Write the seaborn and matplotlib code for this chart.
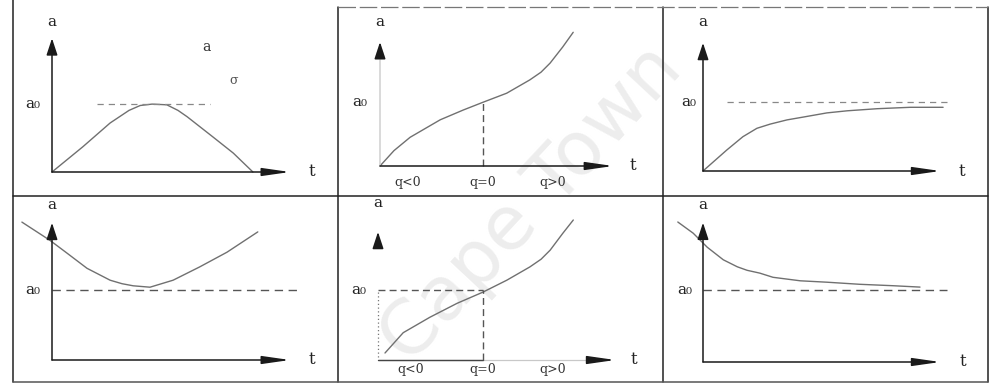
import matplotlib
matplotlib.use("Agg")
import matplotlib.pyplot as plt
from matplotlib.lines import Line2D
import seaborn as sns

sns.set_theme(style="white")
plt.rcParams["font.family"] = ["DejaVu Serif", "DejaVu Sans"]

W, H = 990, 383
S = 70.0  # pixels per data unit

# ---- curve data (t, a) for the six panels; a0 is the reference level ----
t1 = [0.00, 0.44, 0.83, 1.10, 1.26, 1.43, 1.64, 1.80, 1.93, 2.30, 2.59, 2.87]
a1 = [0.00, 0.36, 0.70, 0.88, 0.95, 0.97, 0.96, 0.88, 0.79, 0.50, 0.27, 0.00]
a0_1 = 0.97

t2 = [0.00, 0.20, 0.43, 0.86, 1.19, 1.47, 1.81, 2.14, 2.30, 2.43, 2.61, 2.76]
a2 = [0.00, 0.22, 0.41, 0.66, 0.80, 0.91, 1.04, 1.23, 1.34, 1.47, 1.70, 1.91]
a0_2 = 0.91
tq_2 = 1.47

t3 = [0.00, 0.34, 0.57, 0.77, 0.96, 1.20, 1.43, 1.77, 2.06, 2.49, 2.96, 3.43]
a3 = [0.00, 0.30, 0.49, 0.61, 0.67, 0.73, 0.77, 0.83, 0.86, 0.89, 0.91, 0.91]
a0_3 = 0.99

t4 = [-0.43, -0.03, 0.21, 0.50, 0.83, 1.00, 1.16, 1.40, 1.73, 2.11, 2.50, 2.94]
a4 = [1.97, 1.71, 1.53, 1.31, 1.14, 1.09, 1.06, 1.04, 1.14, 1.33, 1.54, 1.83]
a0_4 = 1.00

t5 = [0.10, 0.36, 0.74, 1.13, 1.50, 1.84, 2.17, 2.33, 2.46, 2.64, 2.79]
a5 = [0.10, 0.39, 0.61, 0.81, 0.97, 1.14, 1.33, 1.44, 1.57, 1.81, 2.00]
a0_5 = 1.00
tq_5 = 1.50

t6 = [-0.36, -0.14, 0.06, 0.29, 0.49, 0.63, 0.81, 1.00, 1.39, 1.77, 2.24, 2.71, 3.10]
a6 = [2.00, 1.84, 1.64, 1.46, 1.36, 1.31, 1.27, 1.21, 1.16, 1.14, 1.11, 1.09, 1.07]
a0_6 = 1.03

q_labels = ["q<0", "q=0", "q>0"]

CURVE = "#707070"
AXIS = "#1a1a1a"
DASH = "#555555"
Y_HEAD = "-|>,head_length=0.85,head_width=0.28"
X_HEAD = "-|>,head_length=1.4,head_width=0.2"

fig = plt.figure(figsize=(W / 100, H / 100), dpi=100)
fig.patch.set_facecolor("white")


def make_panel(cell, origin):
    x0, y0, x1, y1 = cell
    ox, oy = origin
    ax = fig.add_axes([x0 / W, 1 - y1 / H, (x1 - x0) / W, (y1 - y0) / H])
    ax.set_xlim((x0 - ox) / S, (x1 - ox) / S)
    ax.set_ylim((oy - y1) / S, (oy - y0) / S)
    ax.axis("off")
    ax.patch.set_alpha(0)
    return ax


def arrow(ax, start, tip, style, color=AXIS, lw=1.1):
    ax.annotate("", xy=tip, xytext=start,
                arrowprops=dict(arrowstyle=style, color=color, lw=lw,
                                mutation_scale=12, shrinkA=0, shrinkB=0))


def axes_arrows(ax, ytop, xright, ylabel_y, tlabel_x, ycolor=AXIS):
    arrow(ax, (0, 0), (0, ytop), Y_HEAD, color=ycolor)
    arrow(ax, (0, 0), (xright, 0), X_HEAD)
    ax.text(0, ylabel_y, "a", ha="center", va="center", fontsize=11, color="#222")
    ax.text(tlabel_x, 0, "t", ha="center", va="center", fontsize=12, color="#222")


def curve(ax, t, a):
    sns.lineplot(x=t, y=a, ax=ax, color=CURVE, lw=1.0, sort=False,
                 estimator=None, legend=False)


def a0_label(ax, x, y):
    ax.text(x, y, "a₀", ha="center", va="center", fontsize=11, color="#222")


# Panel 1: rise and fall
ax = make_panel((13, 7, 338, 196), (52, 172))
axes_arrows(ax, 1.91, 3.40, 2.14, 3.71)
curve(ax, t1, a1)
ax.plot([0.64, 2.26], [a0_1, a0_1], ls=(0, (5, 4)), color="#888", lw=0.9)
a0_label(ax, -0.27, a0_1)
ax.text(2.21, 1.79, "a", ha="center", va="center", fontsize=10, color="#333")
ax.text(2.59, 1.31, "σ", ha="center", va="center", fontsize=9, color="#555")

# Panel 2: growth with an inflection at q = 0
ax = make_panel((338, 7, 663, 196), (380, 166))
axes_arrows(ax, 1.77, 3.33, 2.06, 3.61, ycolor="#cfcfcf")
arrow(ax, (0, 1.62), (0, 1.77), Y_HEAD)
curve(ax, t2, a2)
ax.plot([tq_2, tq_2], [0, a0_2], ls=(0, (5, 3)), color=DASH, lw=1.0)
a0_label(ax, -0.29, a0_2)
for x, lab in zip([0.39, tq_2, 2.47], q_labels):
    ax.text(x, -0.23, lab, ha="center", va="center", fontsize=9, color="#333")

# Panel 3: saturation towards a0
ax = make_panel((663, 7, 988, 196), (703, 171))
axes_arrows(ax, 1.83, 3.39, 2.13, 3.70)
curve(ax, t3, a3)
ax.plot([0.34, 3.49], [a0_3, a0_3], ls=(0, (5, 4)), color="#888", lw=0.9)
a0_label(ax, -0.21, a0_3)

# Panel 4: fall and rise around a0
ax = make_panel((13, 196, 338, 382), (52, 360))
axes_arrows(ax, 1.96, 3.40, 2.21, 3.71)
curve(ax, t4, a4)
ax.plot([0, 3.50], [a0_4, a0_4], ls=(0, (6, 4)), color=DASH, lw=1.0)
a0_label(ax, -0.27, a0_4)

# Panel 5: growth with dashed guides to a0
ax = make_panel((338, 196, 663, 382), (378, 360))
arrow(ax, (0, 1.68), (0, 1.83), Y_HEAD)
ax.plot([0, 3.2], [0, 0], color="#c8c8c8", lw=0.9)
ax.plot([0, tq_5], [0, 0], color="#444", lw=1.0)
arrow(ax, (3.1, 0), (3.39, 0), X_HEAD)
ax.text(0, 2.24, "a", ha="center", va="center", fontsize=11, color="#222")
ax.text(3.66, 0, "t", ha="center", va="center", fontsize=12, color="#222")
curve(ax, t5, a5)
ax.plot([0, tq_5], [a0_5, a0_5], ls=(0, (5, 3)), color=DASH, lw=1.0)
ax.plot([tq_5, tq_5], [0, a0_5], ls=(0, (5, 3)), color=DASH, lw=1.0)
ax.plot([0, 0], [0.05, a0_5], ls=(0, (1, 2)), color="#777", lw=0.9)
a0_label(ax, -0.27, a0_5)
for x, lab in zip([0.46, tq_5, 2.50], q_labels):
    ax.text(x, -0.14, lab, ha="center", va="center", fontsize=9, color="#333")

# Panel 6: decay towards a0
ax = make_panel((663, 196, 988, 382), (703, 362))
axes_arrows(ax, 1.99, 3.39, 2.24, 3.71)
curve(ax, t6, a6)
ax.plot([0, 3.49], [a0_6, a0_6], ls=(0, (6, 4)), color=DASH, lw=1.0)
a0_label(ax, -0.26, a0_6)


# Frame lines between the panels
def frame(x_a, y_a, x_b, y_b, color="#222", lw=1.1, ls="-"):
    fig.add_artist(Line2D([x_a / W, x_b / W], [1 - y_a / H, 1 - y_b / H],
                          transform=fig.transFigure, color=color, lw=lw, ls=ls))


frame(13, 0, 13, 382)
frame(338, 7, 338, 382)
frame(663, 7, 663, 382)
frame(988, 7, 988, 382)
frame(13, 196, 988, 196)
frame(13, 382, 988, 382, color="#555")
frame(338, 7, 988, 7, color="#777", lw=0.9, ls=(0, (14, 3)))

# Watermark
fig.text(532 / W, 1 - 205 / H, "Cape Town", rotation=47, fontsize=54,
         color="#ededed", ha="center", va="center", family="DejaVu Sans",
         zorder=-1)

fig.savefig("out.png", dpi=100, facecolor="white")
